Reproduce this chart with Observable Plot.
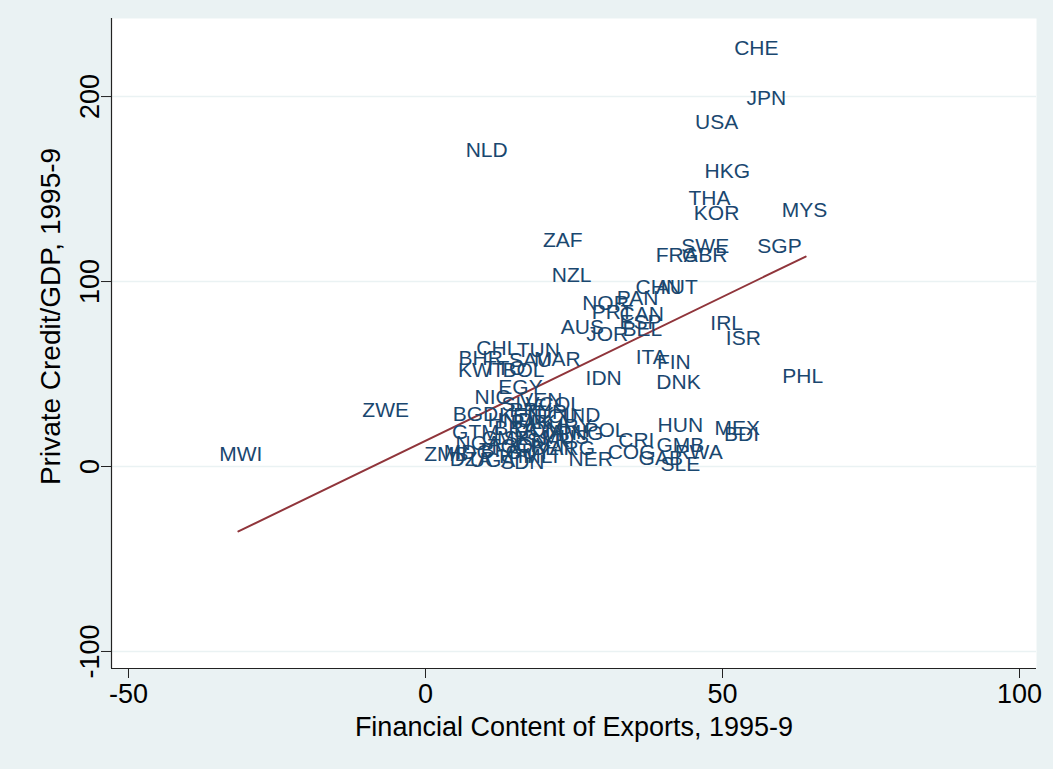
<!DOCTYPE html>
<html>
<head>
<meta charset="utf-8">
<script src="https://cdn.jsdelivr.net/npm/d3@7"></script>
<script src="https://cdn.jsdelivr.net/npm/@observablehq/plot@0.6"></script>
<style>
  html, body { margin: 0; padding: 0; background: #eaf2f3; }
  #chart { width: 1053px; height: 769px; }
</style>
</head>
<body>
<div id="chart"></div>
<script>
// Country codes (labels drawn at each point)
const countries = [
  "CHE","JPN","USA","NLD","HKG","THA","MYS","KOR","ZAF","SWE","SGP","FRA","GBR","NZL",
  "CHN","AUT","NOR","PAN","PRT","CAN","ESP","AUS","BEL","JOR","IRL","ISR","ITA","FIN",
  "DNK","PHL","IDN","CHL","TUN","BHR","SAU","MAR","KWT","TTO","BOL","EGY","NIC","ZWE",
  "MWI","BGD","IND","GTM","POL","CRI","HUN","MEX","BDI","GMB","RWA","COG","GAB","SLE",
  "NER","NGA","ZMB","DZA","SDN",
  "SLV","VEN","COL","PRY","TUR","KEN","ECU","HND","PAK","LKA","URY","BRA","DOM","JAM",
  "PNG","CMR","SEN","SYR","MUS","TGO","CIV","BEN","ARG","MDG","UGA","MLI","BFA","GUY","HTI"
];
// Financial content of exports, 1995-9
const finContent = [
  55.7, 57.4, 49.0, 10.3, 50.8, 47.8, 63.8, 49.0, 23.1, 47.1, 59.6, 42.3, 47.0, 24.6,
  39.2, 42.3, 30.3, 35.7, 31.5, 36.4, 36.2, 26.4, 36.5, 30.6, 50.7, 53.5, 38.0, 41.8,
  42.6, 63.5, 30.0, 12.1, 19.0, 9.3, 17.7, 22.2, 9.4, 13.3, 16.5, 16.0, 11.3, -6.7,
  -31.1, 8.4, 26.4, 8.4, 30.3, 35.5, 42.9, 52.5, 53.2, 42.9, 46.0, 34.7, 39.6, 42.9,
  27.8, 8.9, 3.5, 7.6, 16.3,
  16.0, 19.4, 22.7, 17.7, 20.2, 16.0, 21.9, 14.3, 17.7, 21.0, 24.4, 15.2, 19.0, 22.7,
  26.1, 13.5, 16.8, 20.7, 23.6, 14.3, 18.0, 21.4, 24.7, 7.2, 11.3, 19.4, 12.6, 17.3, 15.2
];
// Private credit / GDP, 1995-9
const privCredit = [
  225.9, 198.9, 185.9, 170.8, 159.5, 144.9, 138.4, 136.8, 122.2, 118.9, 118.9, 114.1, 114.1, 103.2,
  96.8, 96.8, 88.1, 90.8, 83.2, 82.2, 77.8, 75.1, 74.1, 71.4, 77.3, 69.2, 58.9, 56.2,
  45.4, 48.6, 47.6, 63.8, 62.7, 58.4, 57.3, 57.8, 51.9, 53.0, 51.9, 42.7, 37.3, 30.3,
  6.5, 28.1, 27.6, 18.4, 19.5, 14.1, 22.2, 20.5, 17.3, 11.4, 7.6, 7.6, 4.3, 1.1,
  3.8, 12.4, 6.5, 3.8, 2.2,
  33.5, 35.7, 33.5, 30.3, 29.2, 27.6, 27.0, 24.9, 23.8, 23.8, 21.6, 20.5, 19.5, 18.4,
  17.8, 15.1, 15.1, 14.1, 15.7, 10.8, 11.4, 9.7, 9.7, 7.6, 3.2, 5.4, 8.6, 7.6, 5.4
];
// Fitted line endpoints
const fitX = [-31.5, 64.0];
const fitY = [-35.1, 113.5];
// Axis ticks
const xTicks = [-50, 0, 50, 100];
const yTicks = [-100, 0, 100, 200];

const points = countries.map((c, i) => ({code: c, x: finContent[i], y: privCredit[i]}));
const fit = fitX.map((x, i) => ({x, y: fitY[i]}));

const font = "'Liberation Sans', Arial, Helvetica, sans-serif";
const fmt = d => `${d}`;

const chart = Plot.plot({
  width: 1053,
  height: 769,
  marginLeft: 111,
  marginRight: 17,
  marginTop: 18,
  marginBottom: 101,
  style: {background: "transparent", fontFamily: font, color: "black"},
  x: {domain: [-52.86, 102.86], label: null},
  y: {domain: [-109.2, 242.2], label: null},
  marks: [
    Plot.frame({fill: "white", stroke: null}),
    Plot.gridY(yTicks, {stroke: "#eaf2f3", strokeOpacity: 1, strokeWidth: 1.5}),
    Plot.axisX(xTicks, {tickSize: 10, tickPadding: 5, fontSize: 27, tickFormat: fmt, label: null, stroke: "#222"}),
    Plot.axisY(yTicks, {tickSize: 10, tickPadding: 3, fontSize: 27, tickRotate: -90, tickFormat: fmt, label: null, stroke: "#222"}),
    Plot.ruleX([-52.86], {stroke: "#222", strokeWidth: 1.2}),
    Plot.ruleY([-109.2], {stroke: "#222", strokeWidth: 1.2}),
    Plot.line(fit, {x: "x", y: "y", stroke: "#90353b", strokeWidth: 2}),
    Plot.text(points, {x: "x", y: "y", text: "code", fill: "#1a476f", fontSize: 21,
      textAnchor: "middle", lineAnchor: "middle"}),
    Plot.text(["Financial Content of Exports, 1995-9"], {frameAnchor: "bottom", dy: 59,
      fontSize: 27, fill: "black", textAnchor: "middle", lineAnchor: "middle"}),
    Plot.text(["Private Credit/GDP, 1995-9"], {frameAnchor: "left", dx: -60, dy: -27, rotate: -90,
      fontSize: 28, fill: "black", textAnchor: "middle", lineAnchor: "middle"})
  ]
});
document.getElementById("chart").appendChild(chart);
</script>
</body>
</html>
